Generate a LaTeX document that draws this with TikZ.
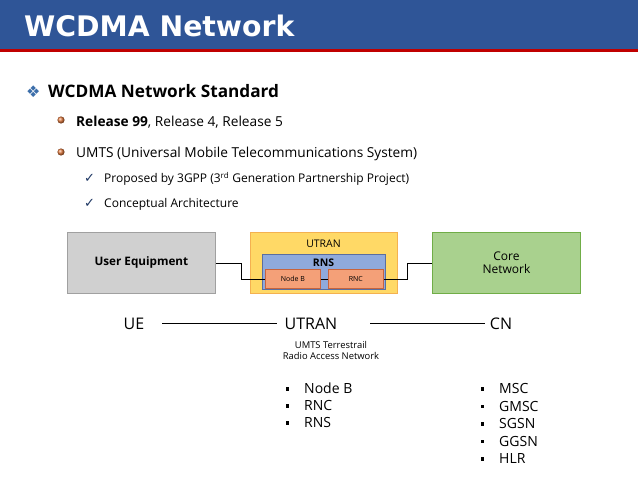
\documentclass[tikz,border=0pt]{standalone}
\usepackage{fontspec}
\setmainfont{Open Sans}
\newfontfamily\symfont{DejaVu Sans}
\usetikzlibrary{calc}
\definecolor{hdrblue}{RGB}{47,85,151}
\definecolor{hdrred}{RGB}{192,0,0}
\definecolor{uefill}{RGB}{208,208,208}
\definecolor{ueline}{RGB}{160,160,160}
\definecolor{utfill}{RGB}{255,217,102}
\definecolor{utline}{RGB}{244,177,80}
\definecolor{rnsfill}{RGB}{143,170,220}
\definecolor{rnsline}{RGB}{90,110,160}
\definecolor{nbfill}{RGB}{244,160,120}
\definecolor{nbline}{RGB}{200,100,60}
\definecolor{cnfill}{RGB}{169,209,142}
\definecolor{cnline}{RGB}{112,173,71}
\definecolor{ballc}{RGB}{224,120,60}
\definecolor{checkc}{RGB}{31,56,100}
\definecolor{diamc}{RGB}{60,110,170}
\tikzset{
  txt/.style={anchor=base west, inner sep=0pt, text=black},
  body/.style={txt, font=\fontsize{13.7}{16}\selectfont},
  sub/.style={txt, font=\fontsize{12}{14}\selectfont},
  blt/.style={txt, font=\fontsize{14}{16}\selectfont},
  box/.style={draw, line width=0.8pt, inner sep=0pt},
  conn/.style={draw=black, line width=0.8pt},
  chk/.style={anchor=base west, inner sep=0pt, text=checkc, font=\symfont\bfseries\fontsize{13}{15}\selectfont},
  big/.style={anchor=base, inner sep=0pt, font=\fontsize{16}{18}\selectfont},
}
\begin{document}
\begin{tikzpicture}[x=1pt,y=-1pt]
\useasboundingbox (0,0) rectangle (638,479);
\fill[white] (0,0) rectangle (638,479);
% header
\fill[hdrblue] (0,0) rectangle (638,49);
\fill[hdrred] (0,49) rectangle (638,51.5);
\node[anchor=base west, inner sep=0pt, text=white, font=\symfont\bfseries\fontsize{28.3}{32}\selectfont] (title) at (24,36) {WCDMA Network};
% heading
\node[anchor=base west, inner sep=0pt, text=diamc, font=\symfont\fontsize{16}{18}\selectfont] (dia) at (26,97) {❖};
\node[anchor=base west, inner sep=0pt, font=\bfseries\fontsize{17.2}{20}\selectfont] (h1) at (48,97) {WCDMA Network Standard};
% orange balls
\shade[ball color=ballc] (61,120) circle (3.6);
\shade[ball color=ballc] (61,152) circle (3.6);
\node[body] (r1) at (76,126) {\textbf{Release 99}, Release 4, Release 5};
\node[body] (r2) at (76,157) {UMTS (Universal Mobile Telecommunications System)};
\node[chk] (c1) at (84,182.5) {✓};
\node[chk] (c2) at (84,207.5) {✓};
\node[sub] (s1) at (104,182.5) {Proposed by 3GPP (3\textsuperscript{rd} Generation Partnership Project)};
\node[sub] (s2) at (104,207.5) {Conceptual Architecture};
% boxes
\node[box, draw=ueline, fill=uefill, minimum width=148, minimum height=61, anchor=north west, font=\bfseries\fontsize{11.7}{13}\selectfont] (ue) at (67,232) {User Equipment};
\node[box, draw=utline, fill=utfill, minimum width=147, minimum height=61, anchor=north west] (utran) at (250,232) {};
\node[inner sep=0pt, font=\fontsize{10.5}{12}\selectfont, anchor=base] (utranlbl) at (323.5,247.5) {UTRAN};
\node[box, draw=rnsline, fill=rnsfill, minimum width=123, minimum height=35, anchor=north west] (rns) at (262,254) {};
\node[inner sep=0pt, font=\bfseries\fontsize{10.5}{12}\selectfont, anchor=base] (rnslbl) at (323.5,266) {RNS};
\node[box, draw=nbline, fill=nbfill, minimum width=55, minimum height=19, anchor=north west, font=\fontsize{7}{8}\selectfont] (nodeb) at (265,269) {Node B};
\node[box, draw=nbline, fill=nbfill, minimum width=55, minimum height=19, anchor=north west, font=\fontsize{7}{8}\selectfont] (rnc) at (328,269) {RNC};
\node[box, draw=cnline, fill=cnfill, minimum width=148, minimum height=61, anchor=north west, align=center, font=\fontsize{12}{13.5}\selectfont] (cn) at (432,232) {Core\\Network};
% connectors
\draw[conn] (ue.east) -- ++(26,0) |- (nodeb.west);
\draw[conn] (nodeb.east) -- (rnc.west);
\draw[conn] (rnc.east) -- ++(24,0) |- (cn.west);
% bottom row
\node[big] (ue2) at (134,329) {UE};
\node[big] (utran2) at (311,329) {UTRAN};
\node[big] (cn2) at (501,329) {CN};
\draw[conn, line width=0.6pt] (162,323) coordinate (l1a) -- (277,323) coordinate (l1b);
\draw[conn, line width=0.6pt] (370,323) coordinate (l2a) -- (485,323) coordinate (l2b);
\node[anchor=north, inner sep=0pt, align=center, font=\fontsize{9.4}{11.5}\selectfont] (utdesc) at (331,341) {UMTS Terrestrail\\Radio Access Network};
% bullet lists
\foreach \t/\y [count=\i] in {Node B/393.5, RNC/410.5, RNS/427.5}{
  \fill (285.5,\y-6.5) rectangle ++(3.5,3.5);
  \node[blt] (la\i) at (304,\y) {\t};
}
\foreach \t/\y [count=\i] in {MSC/393.5, GMSC/411, SGSN/428.5, GGSN/446, HLR/463.5}{
  \fill (480.5,\y-6.5) rectangle ++(3.5,3.5);
  \node[blt] (lb\i) at (499,\y) {\t};
}
\end{tikzpicture}
\end{document}
